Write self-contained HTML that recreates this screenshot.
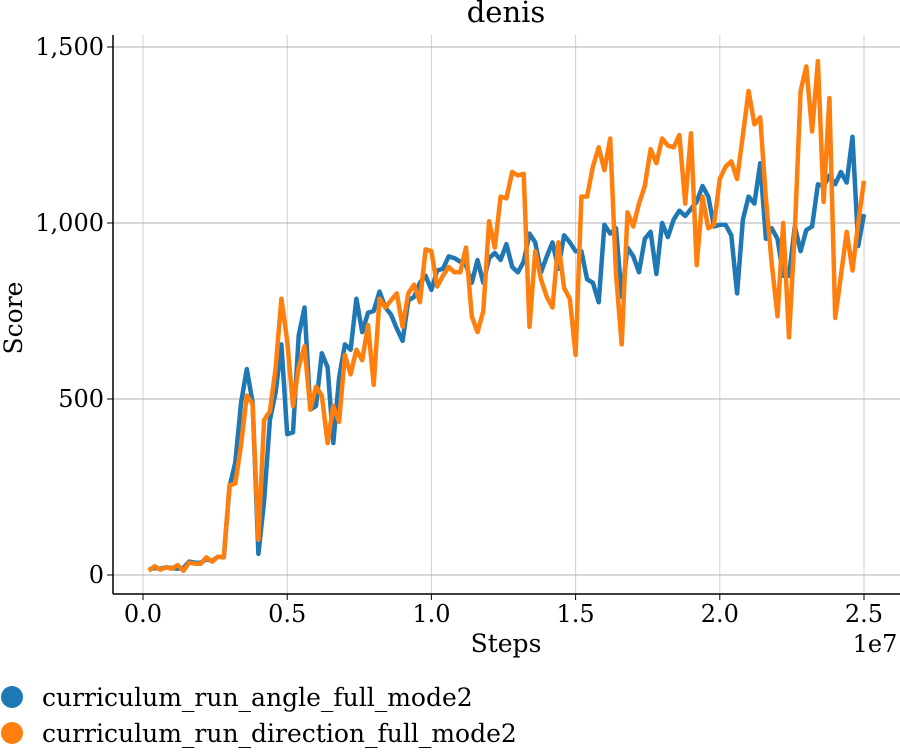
<!DOCTYPE html>
<html><head><meta charset="utf-8"><style>
body{margin:0;background:#fff;width:900px;height:750px;overflow:hidden}
svg text{font-family:"DejaVu Serif","Liberation Serif",serif;fill:#000}
</style></head><body>
<svg id="chart" width="900" height="750">
<text x="506" y="22" font-size="29" text-anchor="middle">denis</text>
<g id="grid"></g>
<g id="axes"></g>
<g id="series"></g>
<text x="506" y="652" font-size="25" text-anchor="middle">Steps</text>
<text x="875" y="652" font-size="24" text-anchor="middle">1e7</text>
<text transform="translate(22,318) rotate(-90)" font-size="25" text-anchor="middle">Score</text>
<g>
<circle cx="12" cy="697" r="11" fill="#1f77b4"/>
<text x="42" y="706" font-size="25">curriculum_run_angle_full_mode2</text>
<circle cx="12" cy="733" r="11" fill="#ff7f0e"/>
<text x="42" y="742" font-size="25">curriculum_run_direction_full_mode2</text>
</g>
</svg>
<script>
const xTicks=[0,0.5,1.0,1.5,2.0,2.5];
const xTickLabels=["0.0","0.5","1.0","1.5","2.0","2.5"];
const yTicks=[0,500,1000,1500];
const yTickLabels=["0","500","1,000","1,500"];
const angleScores=[15,20,18,22,20,18,20,38,35,35,45,40,52,50,250,320,490,585,490,60,210,440,520,655,400,405,680,760,470,480,630,590,375,560,655,640,785,690,745,750,805,760,740,700,665,780,790,830,850,810,865,870,905,900,890,880,830,895,830,900,915,895,940,875,860,890,970,945,860,905,945,870,965,945,920,920,840,830,775,995,970,985,790,930,905,860,955,975,855,1000,960,1010,1035,1020,1040,1060,1105,1075,990,995,995,965,800,1010,1075,1055,1170,955,985,955,850,850,990,920,980,990,1110,1105,1135,1110,1145,1115,1245,935,1025];
const directionScores=[12,25,15,22,18,28,12,35,32,32,50,38,52,50,255,260,370,510,485,100,440,465,590,785,665,480,590,650,470,535,510,375,480,435,625,570,640,610,710,540,785,760,780,800,705,800,825,775,925,920,820,850,875,860,860,930,735,690,750,1005,930,1075,1070,1145,1135,1140,705,920,840,790,760,945,815,785,625,1075,1075,1160,1215,1150,1240,855,655,1030,990,1055,1105,1210,1170,1240,1220,1215,1250,1055,1255,880,1075,985,995,1125,1160,1175,1125,1250,1375,1280,1300,1070,885,735,1000,675,975,1375,1445,1260,1460,1060,1355,730,850,975,865,1000,1120];
const stepStart=0.02, stepInc=0.02;
const NS="http://www.w3.org/2000/svg";
const xs=v=>143+v*288.4;
const ys=v=>575-v*0.352;
const grid=document.getElementById('grid'),axes=document.getElementById('axes'),series=document.getElementById('series');
function mk(tag,attrs,parent){const e=document.createElementNS(NS,tag);for(const k in attrs)e.setAttribute(k,attrs[k]);parent.appendChild(e);return e;}
xTicks.forEach((t,i)=>{
  const gl=mk('line',{x1:xs(t),x2:xs(t),y1:35,y2:594,stroke:'#d0d0d0','stroke-width':1},grid);
  
  
  const tk=mk('line',{x1:xs(t),x2:xs(t),y1:594,y2:600,stroke:'#000','stroke-width':1},axes);
  
  
  const tx=mk('text',{x:xs(t),y:622,'font-size':24,'text-anchor':'middle'},axes);
  tx.textContent=xTickLabels[i];
  
  
});
yTicks.forEach((t,i)=>{
  const gl=mk('line',{x1:113,x2:900,y1:ys(t),y2:ys(t),stroke:'#b0b0b0','stroke-width':1},grid);
  
  
  const tk=mk('line',{x1:107,x2:113,y1:ys(t),y2:ys(t),stroke:'#000','stroke-width':1},axes);
  
  
  const tx=mk('text',{x:104,y:ys(t)+8,'font-size':24,'text-anchor':'end'},axes);
  tx.textContent=yTickLabels[i];
  
  
});
const ax1=mk('line',{x1:113,x2:113,y1:35,y2:594,stroke:'#000','stroke-width':1.5},axes);


const ax2=mk('line',{x1:113,x2:900,y1:594,y2:594,stroke:'#000','stroke-width':1.5},axes);


function draw(vals,color,name){
  const pts=vals.map((v,i)=>xs(stepStart+i*stepInc).toFixed(1)+','+ys(v).toFixed(1)).join(' ');
  const p=mk('polyline',{points:pts,fill:'none',stroke:color,'stroke-width':4.5,'stroke-linejoin':'round'},series);
  
  
}
draw(angleScores,'#1f77b4','series-angle-line');
draw(directionScores,'#ff7f0e','series-direction-line');
</script>
</body></html>
